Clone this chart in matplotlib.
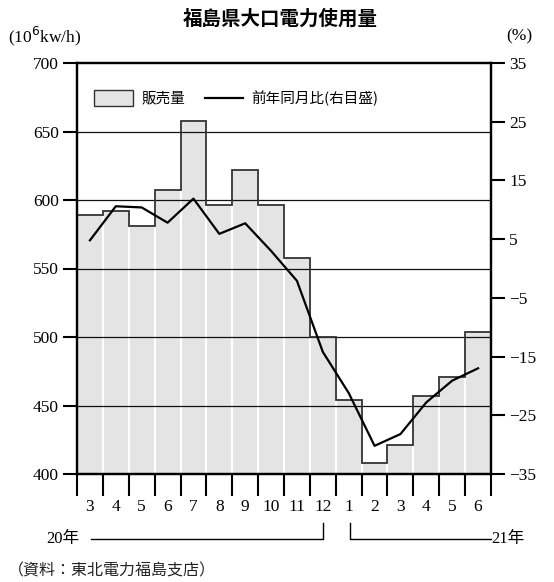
import numpy as np
import matplotlib
matplotlib.use('Agg')
import matplotlib.pyplot as plt

# data
months = ['3', '4', '5', '6', '7', '8', '9', '10', '11', '12', '1', '2', '3', '4', '5', '6']
sales = [589, 592, 581, 607, 658, 596, 622, 596, 558, 500, 454, 408, 421, 457, 471, 504]
yoy = [4.8, 10.6, 10.4, 7.8, 11.9, 5.9, 7.7, 3.0, -2.1, -14.2, -21.2, -30.2, -28.2, -22.8, -19.1, -17.0]

serif = ['Liberation Serif', 'Noto Sans CJK JP']
jp = ['Noto Sans CJK JP', 'DejaVu Sans']

fig = plt.figure(figsize=(5.54, 5.82), dpi=100)
ax = fig.add_axes([77 / 554, 1 - 474 / 582, 414 / 554, 411 / 582])

n = len(sales)
x = np.arange(n)
edges = np.arange(n + 1) - 0.5

# bars with white separators, then the dark step outline on top
ax.bar(x, [v - 400 for v in sales], bottom=400, width=1.0, color='#e4e4e4',
       edgecolor='white', linewidth=1.5, zorder=1)
ax.stairs(sales, edges, baseline=None, color='#333333', linewidth=1.3, zorder=3)

# horizontal grid lines
for g in [450, 500, 550, 600, 650]:
    ax.axhline(g, color='#111111', linewidth=0.9, zorder=2)

ax.set_xlim(-0.5, n - 0.5)
ax.set_ylim(400, 700)
ax.set_yticks([400, 450, 500, 550, 600, 650, 700])
ax.tick_params(axis='y', direction='out', length=10, width=1.5, labelsize=12.5, pad=3)
for lab in ax.get_yticklabels():
    lab.set_family(serif)

ax.set_xticks(edges)
ax.set_xticklabels([])
ax.tick_params(axis='x', which='major', direction='out', length=16, width=1.5)
ax.set_xticks(x, minor=True)
ax.set_xticklabels(months, minor=True, fontsize=12.5, family=serif)
ax.tick_params(axis='x', which='minor', length=0, pad=18)

for s in ax.spines.values():
    s.set_linewidth(1.6)

ax2 = ax.twinx()
ax2.plot(x, yoy, color='black', linewidth=1.6, zorder=4)
ax2.set_ylim(-35, 35)
ax2.set_yticks([-35, -25, -15, -5, 5, 15, 25, 35])
ax2.set_yticklabels(['\u221235', '\u221225', '\u221215', '\u22125', '5', '15', '25', '35'])
ax2.tick_params(axis='y', direction='out', length=10, width=1.5, labelsize=12.5, pad=3)
for lab in ax2.get_yticklabels():
    lab.set_family(serif)
for s in ax2.spines.values():
    s.set_linewidth(1.6)

# legend drawn by hand in axes coords
ax.add_patch(plt.Rectangle((0.04, 0.895), 0.095, 0.04, transform=ax.transAxes,
                           facecolor='#e4e4e4', edgecolor='#333333', linewidth=1, zorder=5))
ax.text(0.155, 0.915, '販売量', transform=ax.transAxes, va='center', ha='left',
        fontsize=10.5, family=jp, zorder=5)
ax.plot([0.31, 0.4], [0.915, 0.915], transform=ax.transAxes, color='black', linewidth=1.6, zorder=5)
ax.text(0.42, 0.915, '前年同月比(右目盛)', transform=ax.transAxes, va='center', ha='left',
        fontsize=10.5, family=jp, zorder=5)

# title and unit labels
fig.text(0.505, 0.968, '福島県大口電力使用量', ha='center', va='center', fontsize=14,
         fontweight='bold', family=jp)
fig.text(8 / 554, 1 - 36 / 582, '(10$^6$kw/h)', ha='left', va='center', fontsize=12.5, family=serif)
fig.text(532 / 554, 1 - 36 / 582, '(%)', ha='right', va='center', fontsize=12.5, family=serif)

# year brackets under the month labels
y_br = 1 - 539 / 582
y_top = 1 - 523 / 582
fig.text(46 / 554, y_br, '20年', ha='left', va='center', fontsize=12, family=serif)
fig.add_artist(plt.Line2D([91 / 554, 323 / 554, 323 / 554], [y_br, y_br, y_top],
                          color='black', linewidth=1))
fig.add_artist(plt.Line2D([350 / 554, 350 / 554, 491 / 554], [y_top, y_br, y_br],
                          color='black', linewidth=1))
fig.text(491 / 554, y_br, '21年', ha='left', va='center', fontsize=12, family=serif)

fig.text(8 / 554, 1 - 571 / 582, '（資料：東北電力福島支店）', ha='left', va='center',
         fontsize=11.5, family=jp, color='#222222')

fig.savefig('out.png', dpi=100)
